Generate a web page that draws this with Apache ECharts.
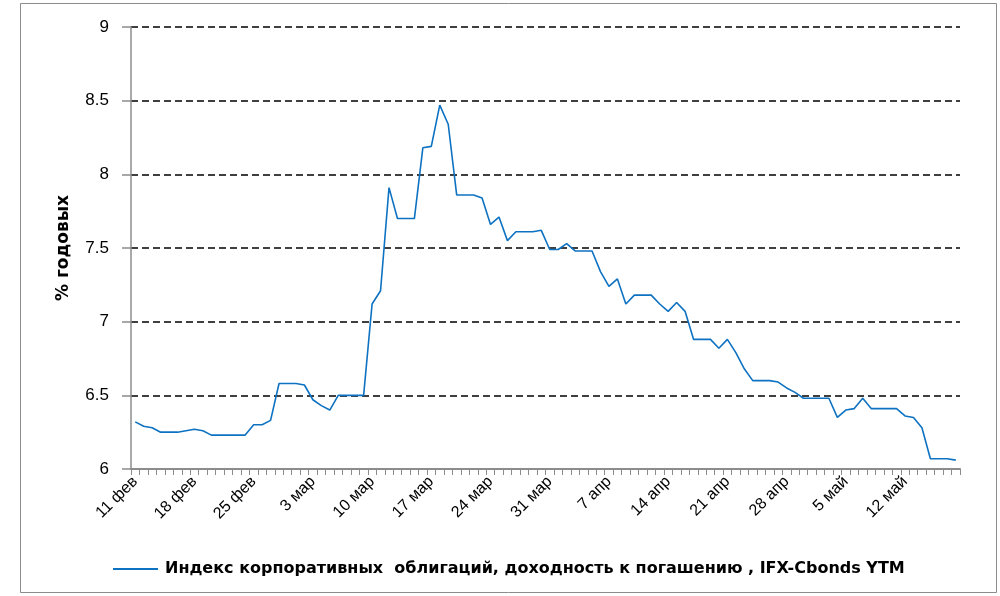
<!DOCTYPE html>
<html>
<head>
<meta charset="utf-8">
<script src="https://cdn.jsdelivr.net/npm/echarts@6/dist/echarts.min.js"></script>
<style>
  html, body { margin: 0; padding: 0; background: #fff; }
  #chart { width: 1000px; height: 596px; }
</style>
</head>
<body>
<div id="chart"></div>
<script>
(function() {
  // month name, first day, last day shown
  var months = [['фев', 11, 29], ['мар', 1, 31], ['апр', 1, 30], ['май', 1, 18]];

  // IFX-Cbonds YTM, % годовых, one value per calendar day
  var yields = [
    6.32, 6.29, 6.28, 6.25, 6.25, 6.25, 6.26, 6.27, 6.26, 6.23,
    6.23, 6.23, 6.23, 6.23, 6.30, 6.30, 6.33, 6.58, 6.58, 6.58,
    6.57, 6.47, 6.43, 6.40, 6.50, 6.50, 6.50, 6.50, 7.12, 7.21,
    7.91, 7.70, 7.70, 7.70, 8.18, 8.19, 8.47, 8.34, 7.86, 7.86,
    7.86, 7.84, 7.66, 7.71, 7.55, 7.61, 7.61, 7.61, 7.62, 7.49,
    7.49, 7.53, 7.48, 7.48, 7.48, 7.34, 7.24, 7.29, 7.12, 7.18,
    7.18, 7.18, 7.12, 7.07, 7.13, 7.07, 6.88, 6.88, 6.88, 6.82,
    6.88, 6.79, 6.68, 6.60, 6.60, 6.60, 6.59, 6.55, 6.52, 6.48,
    6.48, 6.48, 6.48, 6.35, 6.40, 6.41, 6.48, 6.41, 6.41, 6.41,
    6.41, 6.36, 6.35, 6.28, 6.07, 6.07, 6.07, 6.06
  ];

  var seriesName = 'Индекс корпоративных  облигаций, доходность к погашению , IFX-Cbonds YTM';
  var yName = '% годовых';

  var days = [];
  months.forEach(function(m) {
    for (var d = m[1]; d <= m[2]; d++) days.push(d + ' ' + m[0]);
  });

  var font = 'Liberation Sans';
  var wide = 'DejaVu Sans';
  var axisGray = '#8c8c8c';

  var chart = echarts.init(document.getElementById('chart'), null, { renderer: 'canvas' });
  chart.setOption({
    animation: false,
    backgroundColor: '#fff',
    textStyle: { fontFamily: font },
    graphic: [{
      type: 'rect',
      shape: { x: 20.5, y: 3.5, width: 976, height: 589 },
      style: { fill: 'none', stroke: axisGray, lineWidth: 1 },
      z: -1
    }],
    grid: { left: 131, right: 40, top: 27, bottom: 127 },
    legend: {
      left: 108, top: 556,
      icon: 'rect', itemWidth: 45, itemHeight: 2, itemGap: 10,
      textStyle: { fontFamily: wide, fontSize: 16, fontWeight: 'bold', color: '#000', padding: [0, 0, 0, 2] },
      data: [seriesName]
    },
    xAxis: {
      type: 'category',
      data: days,
      boundaryGap: true,
      axisLine: { lineStyle: { color: axisGray, width: 2 } },
      axisTick: { show: true, interval: 0, length: 6, lineStyle: { color: axisGray, width: 1 } },
      axisLabel: { interval: 6, rotate: 45, margin: 10, fontSize: 16, color: '#000', fontFamily: font },
      splitLine: { show: false }
    },
    yAxis: {
      type: 'value', min: 6, max: 9, interval: 0.5,
      name: yName,
      nameLocation: 'middle',
      nameGap: 59,
      nameRotate: 90,
      nameTextStyle: { fontFamily: wide, fontSize: 17, fontWeight: 'bold', color: '#000' },
      axisLine: { show: true, lineStyle: { color: axisGray, width: 1.5 } },
      axisTick: { show: true, length: 9, lineStyle: { color: axisGray, width: 1.5 } },
      axisLabel: { margin: 22, fontSize: 17, color: '#000', fontFamily: font },
      splitLine: { show: true, lineStyle: { color: '#000', width: 1.5, type: [7, 4] } }
    },
    series: [{
      name: seriesName,
      type: 'line',
      data: yields,
      showSymbol: false,
      smooth: false,
      lineStyle: { color: '#0e72c2', width: 1.6 },
      itemStyle: { color: '#0e72c2' }
    }]
  });
})();
</script>
</body>
</html>
